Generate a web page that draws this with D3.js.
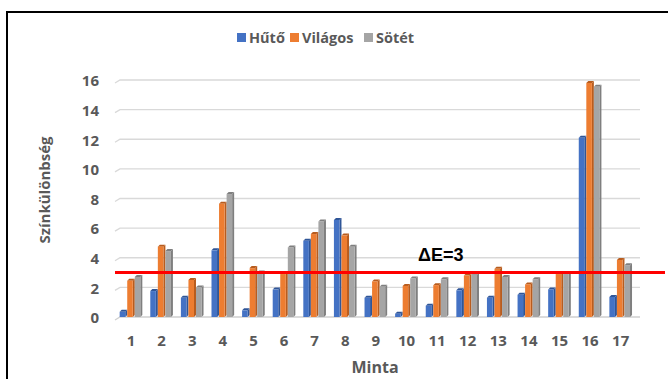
<!DOCTYPE html>
<html>
<head>
<meta charset="utf-8">
<script src="https://cdn.jsdelivr.net/npm/d3@7"></script>
<style>
  html, body { margin: 0; padding: 0; background: #fff; }
  svg { display: block; }
</style>
</head>
<body>
<svg id="chart" width="668" height="379"></svg>
<script>
// Sample numbers on the x axis
const categories = ["1","2","3","4","5","6","7","8","9","10","11","12","13","14","15","16","17"];
const seriesNames = ["Hűtő", "Világos", "Sötét"];
const seriesColors = ["#4472C4", "#ED7D31", "#A5A5A5"];
const seriesDark = ["#2F5597", "#B85C1E", "#7F7F7F"];

// Colour difference per sample, one array per series
const hutoValues    = [0.35, 1.75, 1.3, 4.5, 0.45, 1.85, 5.15, 6.55, 1.3, 0.22, 0.76, 1.8, 1.3, 1.5, 1.86, 12.1, 1.35];
const vilagosValues = [2.45, 4.75, 2.5, 7.65, 3.3, 2.9, 5.6, 5.5, 2.4, 2.1, 2.15, 2.8, 3.25, 2.2, 2.9, 15.8, 3.85];
const sotetValues   = [2.7, 4.45, 2.0, 8.3, 3.0, 4.7, 6.45, 4.75, 2.05, 2.6, 2.55, 2.85, 2.7, 2.55, 2.9, 15.55, 3.5];
const seriesValues = [hutoValues, vilagosValues, sotetValues];

const yTicks = [0, 2, 4, 6, 8, 10, 12, 14, 16];
const threshold = 3;
const thresholdLabel = "ΔE=3";

const svg = d3.select("#chart");
const font = "'Open Sans', 'Noto Sans', sans-serif";
const textGray = "#595959";

// Chart frame (left and top edge)
svg.append("line").attr("x1", 7).attr("y1", 12).attr("x2", 7).attr("y2", 379)
  .attr("stroke", "#000").attr("stroke-width", 2);
svg.append("line").attr("x1", 6).attr("y1", 12).attr("x2", 668).attr("y2", 12)
  .attr("stroke", "#000").attr("stroke-width", 2);

const x0 = d3.scaleBand().domain(categories).range([115.7, 636]).paddingInner(0.26).paddingOuter(0.13);
const x1 = d3.scaleBand().domain(d3.range(seriesNames.length)).range([0, x0.bandwidth()]);
const y = d3.scaleLinear().domain([0, 16]).range([317, 80]);

// Gridlines with a short slanted lead-in from the floor perspective
const grid = svg.append("g");
yTicks.forEach(t => {
  const gy = y(t);
  grid.append("path")
    .attr("d", `M115,${gy + 3} L120,${gy} L640,${gy}`)
    .attr("fill", "none")
    .attr("stroke", t === 0 ? "#d0d0d0" : "#d9d9d9")
    .attr("stroke-width", 1.3);
});

// Y tick labels
const yAxis = d3.axisLeft(y).tickValues(yTicks).tickSize(0).tickPadding(0);
const yg = svg.append("g").attr("transform", "translate(99,1)").call(yAxis);
yg.select(".domain").remove();
yg.selectAll("text").attr("font-family", font).attr("font-size", 15)
  .attr("font-weight", "bold").attr("fill", textGray);

// X tick labels
const xAxis = d3.axisBottom(x0).tickSize(0).tickPadding(0);
const xg = svg.append("g").attr("transform", "translate(0,335)").call(xAxis);
xg.select(".domain").remove();
xg.selectAll("text").attr("font-family", font).attr("font-size", 15)
  .attr("font-weight", "bold").attr("fill", textGray);

// Bars drawn with a front face, a shaded side and a top cap
const depth = 2;
const bars = svg.append("g");
categories.forEach((c, i) => {
  seriesValues.forEach((vals, s) => {
    const v = vals[i];
    const bx = x0(c) + x1(s);
    const w = x1.bandwidth() - depth;
    const top = y(v);
    const base = y(0);
    const g = bars.append("g");
    g.append("path")
      .attr("d", `M${bx + w},${top} L${bx + w + depth},${top - depth} L${bx + w + depth},${base - depth} L${bx + w},${base} Z`)
      .attr("fill", seriesDark[s]);
    g.append("path")
      .attr("d", `M${bx},${top} L${bx + depth},${top - depth} L${bx + w + depth},${top - depth} L${bx + w},${top} Z`)
      .attr("fill", seriesDark[s]);
    g.append("rect")
      .attr("x", bx).attr("y", top)
      .attr("width", w).attr("height", base - top)
      .attr("fill", seriesColors[s]);
  });
});

// Threshold line
svg.append("line")
  .attr("x1", 115).attr("x2", 665)
  .attr("y1", y(threshold)).attr("y2", y(threshold))
  .attr("stroke", "#FF0000").attr("stroke-width", 3);
svg.append("text")
  .attr("x", 418).attr("y", 261)
  .attr("font-family", "'Liberation Sans', Arial, sans-serif")
  .attr("font-size", 18).attr("font-weight", "bold")
  .attr("fill", "#000")
  .text(thresholdLabel);

// Axis titles
svg.append("text")
  .attr("transform", "translate(50,190) rotate(-90)")
  .attr("text-anchor", "middle")
  .attr("font-family", font).attr("font-size", 15).attr("font-weight", "bold")
  .attr("fill", textGray)
  .text("Színkülönbség");
svg.append("text")
  .attr("x", 375).attr("y", 373)
  .attr("text-anchor", "middle")
  .attr("font-family", font).attr("font-size", 16).attr("font-weight", "bold")
  .attr("fill", textGray)
  .text("Minta");

// Legend
const legendX = [237, 290, 364];
const legend = svg.append("g");
seriesNames.forEach((name, s) => {
  legend.append("rect")
    .attr("x", legendX[s]).attr("y", 33).attr("width", 9).attr("height", 9)
    .attr("fill", seriesColors[s]);
  legend.append("text")
    .attr("x", legendX[s] + 12).attr("y", 43)
    .attr("font-family", font).attr("font-size", 14.5).attr("font-weight", "bold")
    .attr("fill", textGray)
    .text(name);
});
</script>
</body>
</html>
